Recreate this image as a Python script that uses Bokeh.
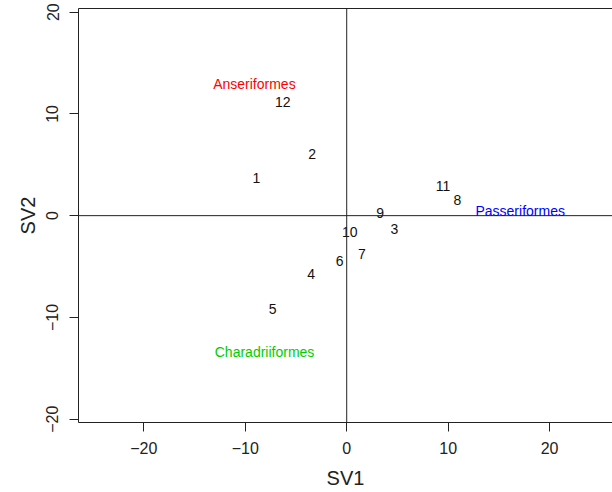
from bokeh.plotting import figure
from bokeh.models import ColumnDataSource, FixedTicker, LinearAxis, Span, Range1d
from bokeh.core.properties import value
from bokeh.embed import file_html
from bokeh.resources import INLINE

# ---- data ----
point_ids = ["1", "2", "3", "4", "5", "6", "7", "8", "9", "10", "11", "12"]
sv1 = [-8.9, -3.4, 4.7, -3.5, -7.3, -0.7, 1.5, 10.9, 3.3, 0.3, 9.5, -6.3]
sv2 = [3.7, 6.05, -1.3, -5.7, -9.2, -4.5, -3.8, 1.5, 0.3, -1.6, 2.9, 11.2]

group_names = ["Anseriformes", "Passeriformes", "Charadriiformes"]
group_sv1 = [-9.1, 17.1, -8.1]
group_sv2 = [12.9, 0.5, -13.4]
group_colors = ["#FF0000", "#0000FF", "#00CD00"]

x_ticks = [-20, -10, 0, 10, 20]
x_tick_labels = ["\u221220", "\u221210", "0", "10", "20"]
y_ticks = [-20, -10, 0, 10, 20]
y_tick_labels = ["\u221220", "\u221210", "0", "10", "20"]

FONT = "Liberation Sans"

p = figure(width=612, height=492, output_backend="svg", toolbar_location=None,
           x_range=Range1d(-26.44, 26.2), y_range=Range1d(-20.33, 20.36),
           min_border_left=78, min_border_right=0, min_border_top=8,
           min_border_bottom=70)
p.grid.visible = False
p.outline_line_color = None
p.background_fill_color = "white"
p.border_fill_color = "white"

def style_axis(ax, ticks, labels, label):
    ax.ticker = FixedTicker(ticks=ticks)
    ax.major_label_overrides = {t: l for t, l in zip(ticks, labels)}
    ax.major_tick_in = 0
    ax.major_tick_out = 9
    ax.minor_tick_line_color = None
    ax.axis_line_color = "#222222"
    ax.major_tick_line_color = "#222222"
    ax.major_label_text_font = FONT
    ax.major_label_text_font_size = "16px"
    ax.major_label_text_color = "#222222"
    ax.axis_label = label
    ax.axis_label_text_font = FONT
    ax.axis_label_text_font_size = "20px"
    ax.axis_label_text_font_style = "normal"
    ax.axis_label_text_color = "#222222"

style_axis(p.xaxis[0], x_ticks, x_tick_labels, "SV1")
p.xaxis[0].major_label_standoff = 10
p.xaxis[0].axis_label_standoff = 10
style_axis(p.yaxis[0], y_ticks, y_tick_labels, "SV2")
p.yaxis[0].major_label_orientation = "vertical"
p.yaxis[0].major_label_standoff = 11
p.yaxis[0].axis_label_standoff = 5

# top frame line
top = LinearAxis(ticker=FixedTicker(ticks=[]), major_tick_out=0, major_tick_in=0,
                 minor_tick_line_color=None, major_label_text_font_size="0px",
                 axis_line_color="#222222")
p.add_layout(top, "above")

# zero reference lines
p.add_layout(Span(location=0, dimension="width", line_color="#222222", line_width=1))
p.add_layout(Span(location=0, dimension="height", line_color="#222222", line_width=1))

pts = ColumnDataSource(dict(x=sv1, y=sv2, t=point_ids))
p.text(x="x", y="y", text="t", source=pts, text_align="center",
       text_baseline="middle", text_font=value(FONT), text_font_size="14px",
       text_color="#111111")

grp = ColumnDataSource(dict(x=group_sv1, y=group_sv2, t=group_names, c=group_colors))
p.text(x="x", y="y", text="t", source=grp, text_align="center",
       text_baseline="middle", text_font=value(FONT), text_font_size="14px",
       text_color="c")

open("out.html", "w").write(file_html(p, INLINE))
